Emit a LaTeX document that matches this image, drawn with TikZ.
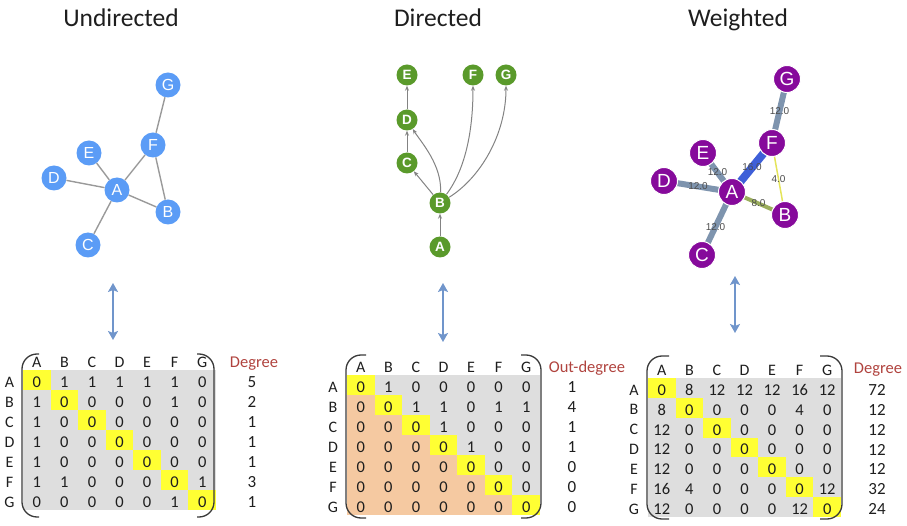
\documentclass[tikz,border=0pt]{standalone}
\usepackage{fontspec}
\setmainfont{Carlito}
\newfontfamily\nodefont{Liberation Sans}
\usetikzlibrary{arrows.meta,backgrounds}

\definecolor{ublue}{HTML}{5B9CF6}
\definecolor{dgreen}{HTML}{5A9A2B}
\definecolor{wpurple}{HTML}{860A9B}
\definecolor{edgegray}{HTML}{9A9A9A}
\definecolor{wtwelve}{HTML}{7E94AE}
\definecolor{wsixteen}{HTML}{3E5FD8}
\definecolor{weight}{HTML}{9BAE5C}
\definecolor{wfour}{HTML}{E4E45A}
\definecolor{cellgray}{HTML}{DEDEDE}
\definecolor{celldiag}{HTML}{FFFF33}
\definecolor{cellpeach}{HTML}{F5C9A1}
\definecolor{degred}{HTML}{B0433E}
\definecolor{linkarrow}{HTML}{7095CB}
\definecolor{bracketgray}{HTML}{3A3A3A}
\definecolor{inktext}{HTML}{1E1E1E}

\begin{document}
\begin{tikzpicture}[x=1pt,y=-1pt,
  title/.style={anchor=base,font=\fontsize{25.5}{30}\selectfont,text=inktext},
  unode/.style={circle,fill=ublue,inner sep=0pt,minimum size=25pt,text=white,
    font=\nodefont\fontsize{16}{18}\selectfont},
  dnode/.style={circle,fill=dgreen,inner sep=0pt,minimum size=21pt,text=white,
    font=\nodefont\bfseries\fontsize{13.5}{15}\selectfont},
  wnode/.style={circle,fill=wpurple,draw=white,line width=1pt,inner sep=0pt,
    minimum size=27pt,text=white,font=\nodefont\fontsize{19}{21}\selectfont},
  uedge/.style={draw=edgegray,line width=1.4pt},
  dedge/.style={draw=edgegray!85!black,line width=1pt,
    -{Stealth[length=5pt,width=4pt]}},
  wlab/.style={font=\nodefont\fontsize{10}{12}\selectfont,text=black!70,inner sep=0pt},
  linkarr/.style={draw=linkarrow,line width=2.2pt,
    {Stealth[length=9pt,width=10pt,inset=2pt]}-{Stealth[length=9pt,width=10pt,inset=2pt]}},
  hdr/.style={font=\fontsize{16}{18}\selectfont,text=inktext,inner sep=0pt},
  cellnum/.style={font=\fontsize{16.5}{18}\selectfont,text=inktext,inner sep=0pt},
  deghead/.style={font=\fontsize{16.5}{18}\selectfont,text=degred,inner sep=0pt},
  degval/.style={font=\fontsize{17}{19}\selectfont,text=inktext,inner sep=0pt},
  bracket/.style={draw=bracketgray,line width=1.3pt,rounded corners=15pt},
]
\useasboundingbox (0,0) rectangle (907,526);

% ---------- titles ----------
\node[title] (tu) at (121,27) {Undirected};
\node[title] (td) at (438,27) {Directed};
\node[title] (tw) at (738,27) {Weighted};

% ---------- undirected graph ----------
\node[unode] (uA) at (117,190) {A};
\node[unode] (uB) at (168,212) {B};
\node[unode] (uC) at (88,245) {C};
\node[unode] (uD) at (54,178) {D};
\node[unode] (uE) at (89,153) {E};
\node[unode] (uF) at (153,145) {F};
\node[unode] (uG) at (168,85) {G};
\draw[uedge] (uA) -- (uB) (uA) -- (uC) (uA) -- (uD) (uA) -- (uE)
  (uA) -- (uF) (uF) -- (uB) (uF) -- (uG);

% ---------- directed graph ----------
\node[dnode] (dA) at (440,247) {A};
\node[dnode] (dB) at (440,203) {B};
\node[dnode] (dC) at (407,163) {C};
\node[dnode] (dD) at (407,120) {D};
\node[dnode] (dE) at (407,75) {E};
\node[dnode] (dF) at (473,75) {F};
\node[dnode] (dG) at (506,75) {G};
\draw[dedge] (dA) -- (dB);
\draw[dedge] (dB) -- (dC);
\draw[dedge] (dC) -- (dD);
\draw[dedge] (dD) -- (dE);
\draw[dedge] (dB) .. controls +(2,-38) and +(14,22) .. (dD);
\draw[dedge] (dB) .. controls +(24,-32) and +(0,60) .. (dF);
\draw[dedge] (dB) .. controls +(40,-25) and +(0,60) .. (dG);

% ---------- weighted graph ----------
\node[wnode] (wA) at (732,192) {A};
\node[wnode] (wB) at (785,215) {B};
\node[wnode] (wC) at (702,255) {C};
\node[wnode] (wD) at (664,181) {D};
\node[wnode] (wE) at (703,153) {E};
\node[wnode] (wF) at (772,143) {F};
\node[wnode] (wG) at (787,79) {G};
\begin{scope}[on background layer]
  \draw[wtwelve,line width=6pt] (wF.center) -- node[wlab] {12.0} (wG.center);
  \draw[wtwelve,line width=6pt] (wA.center) -- node[wlab] {12.0} (wE.center);
  \draw[wtwelve,line width=6pt] (wA.center) -- node[wlab] {12.0} (wD.center);
  \draw[wtwelve,line width=6pt] (wA.center) -- node[wlab,pos=0.55] {12.0} (wC.center);
  \draw[wsixteen,line width=8pt] (wA.center) -- node[wlab] {16.0} (wF.center);
  \draw[weight,line width=4pt] (wA.center) -- node[wlab] {8.0} (wB.center);
  \draw[wfour,line width=1.5pt] (wF.center) -- node[wlab] {4.0} (wB.center);
\end{scope}

% ---------- links between graphs and matrices ----------
\coordinate (uTop) at (113,283);  \coordinate (uBot) at (113,340);
\coordinate (dTop) at (443,283);  \coordinate (dBot) at (443,342);
\coordinate (wTop) at (735,276);  \coordinate (wBot) at (735,333);
\draw[linkarr] (uTop) -- (uBot);
\draw[linkarr] (dTop) -- (dBot);
\draw[linkarr] (wTop) -- (wBot);

% ---------- adjacency matrices ----------
% undirected
\begin{scope}[shift={(23,370)}]
  \fill[cellgray] (0,0) rectangle (193,140);
  \foreach \k in {0,...,6}
    \fill[celldiag] (\k*27.57,\k*20) rectangle ++(27.57,20);
  \foreach \lab [count=\k from 0] in {A,B,C,D,E,F,G} {
    \node[hdr] at (\k*27.57+13.8,-7.5) {\lab};
    \node[hdr] at (-13.5,\k*20+12) {\lab};
  }
  \foreach \row [count=\i from 0] in
    {{0,1,1,1,1,1,0},{1,0,0,0,0,1,0},{1,0,0,0,0,0,0},{1,0,0,0,0,0,0},
     {1,0,0,0,0,0,0},{1,1,0,0,0,0,1},{0,0,0,0,0,1,0}}
    \foreach \v [count=\j from 0] in \row
      \node[cellnum] at (\j*27.57+13.8,\i*20+12) {\v};
  \draw[bracket] (16,-16) -- (-1,-16) -- (-1,147) -- (16,147);
  \draw[bracket] (174,-16) -- (191,-16) -- (191,147) -- (174,147);
  \node[deghead] at (231,-6) {Degree};
  \foreach \d [count=\i from 0] in {5,2,1,1,1,3,1}
    \node[degval] at (229,\i*20+12) {\d};
\end{scope}

% directed
\begin{scope}[shift={(347,375)}]
  \fill[cellgray] (0,0) rectangle (193,140);
  \foreach \k in {1,...,6}
    \fill[cellpeach] (0,\k*20) rectangle (\k*27.57,\k*20+20);
  \foreach \k in {0,...,6}
    \fill[celldiag] (\k*27.57,\k*20) rectangle ++(27.57,20);
  \foreach \lab [count=\k from 0] in {A,B,C,D,E,F,G} {
    \node[hdr] at (\k*27.57+13.8,-7.5) {\lab};
    \node[hdr] at (-14,\k*20+12) {\lab};
  }
  \foreach \row [count=\i from 0] in
    {{0,1,0,0,0,0,0},{0,0,1,1,0,1,1},{0,0,0,1,0,0,0},{0,0,0,0,1,0,0},
     {0,0,0,0,0,0,0},{0,0,0,0,0,0,0},{0,0,0,0,0,0,0}}
    \foreach \v [count=\j from 0] in \row
      \node[cellnum] at (\j*27.57+13.8,\i*20+12) {\v};
  \draw[bracket] (19,-20) -- (-1,-20) -- (-1,143) -- (19,143);
  \draw[bracket] (174,-20) -- (194,-20) -- (194,143) -- (174,143);
  \node[deghead] at (240,-7) {Out-degree};
  \foreach \d [count=\i from 0] in {1,4,1,1,0,0,0}
    \node[degval] at (225,\i*20+12) {\d};
\end{scope}

% weighted
\begin{scope}[shift={(648,378)}]
  \fill[cellgray] (0,0) rectangle (193,139);
  \foreach \k in {0,...,6}
    \fill[celldiag] (\k*27.57,\k*19.86) rectangle ++(27.57,19.86);
  \foreach \lab [count=\k from 0] in {A,B,C,D,E,F,G} {
    \node[hdr] at (\k*27.57+13.8,-8) {\lab};
    \node[hdr] at (-14,\k*19.86+12) {\lab};
  }
  \foreach \row [count=\i from 0] in
    {{0,8,12,12,12,16,12},{8,0,0,0,0,4,0},{12,0,0,0,0,0,0},{12,0,0,0,0,0,0},
     {12,0,0,0,0,0,0},{16,4,0,0,0,0,12},{12,0,0,0,0,12,0}}
    \foreach \v [count=\j from 0] in \row
      \node[cellnum] at (\j*27.57+13.8,\i*19.86+12) {\v};
  \draw[bracket] (21,-22) -- (-1,-22) -- (-1,141) -- (21,141);
  \draw[bracket] (172,-22) -- (194,-22) -- (194,141) -- (172,141);
  \node[deghead] at (230,-8) {Degree};
  \foreach \d [count=\i from 0] in {72,12,12,12,12,32,24}
    \node[degval] at (229,\i*19.86+12) {\d};
\end{scope}
\end{tikzpicture}
\end{document}
